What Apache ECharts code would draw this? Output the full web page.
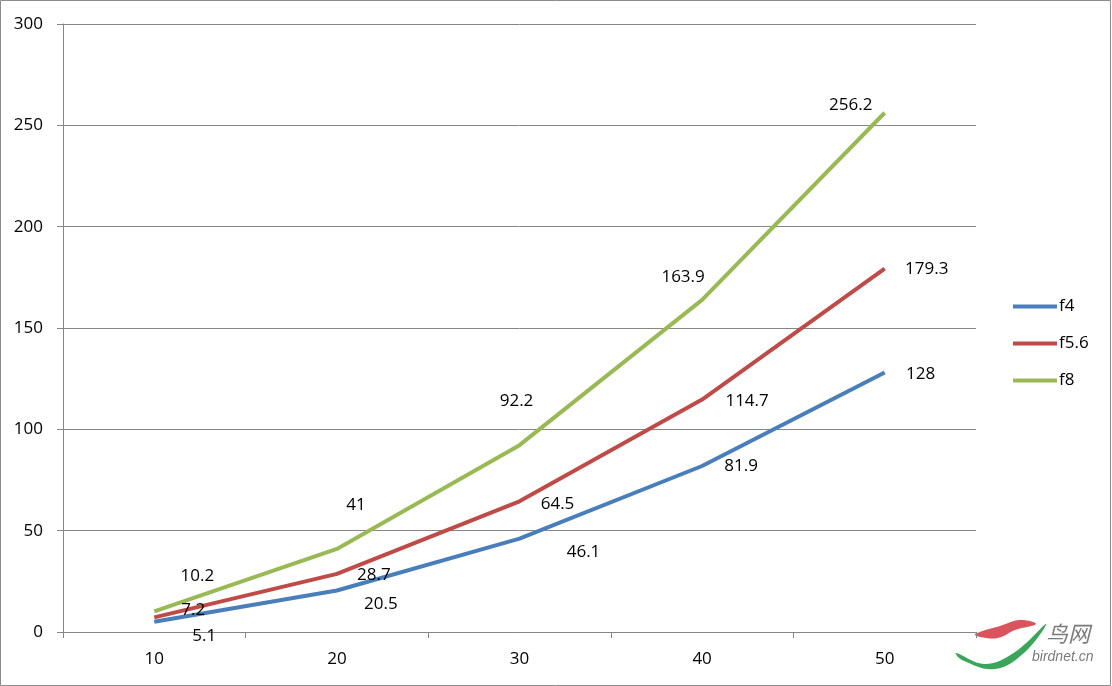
<!DOCTYPE html>
<html>
<head>
<meta charset="utf-8">
<script src="https://cdn.jsdelivr.net/npm/echarts@6/dist/echarts.min.js"></script>
<style>
  html, body { margin: 0; padding: 0; background: #fff; }
  #chart { width: 1112px; height: 686px; }
</style>
</head>
<body>
<div id="chart"></div>
<script>
  // 数据
  var categories = ['10', '20', '30', '40', '50'];
  var seriesNames = ['f4', 'f5.6', 'f8'];
  var f4Values = [5.1, 20.5, 46.1, 81.9, 128];
  var f56Values = [7.2, 28.7, 64.5, 114.7, 179.3];
  var f8Values = [10.2, 41, 92.2, 163.9, 256.2];
  var yTicks = [0, 50, 100, 150, 200, 250, 300];

  var colors = ['#4A7EBB', '#BE4B48', '#98B954'];
  var font = '"Open Sans", "Noto Sans", sans-serif';

  // label offsets (style only), one per point
  var labelShift = [
    [[50, 14], [44, 14], [64, 14], [39, 0], [36, 2]],
    [[39, -7], [37, 1], [38, 3], [45, 2], [42, 1]],
    [[43, -35], [19, -44], [-3, -44], [-19, -23], [-34, -8]]
  ];

  function buildSeries(i, values) {
    return {
      name: seriesNames[i],
      type: 'line',
      symbol: 'circle',
      symbolSize: 0.1,
      lineStyle: { width: 4, color: colors[i] },
      itemStyle: { color: colors[i] },
      label: {
        show: true,
        position: 'inside',
        color: '#000',
        fontSize: 17,
        fontFamily: font
      },
      data: values.map(function (v, j) {
        return { value: v, label: { offset: labelShift[i][j] } };
      })
    };
  }

  var chart = echarts.init(document.getElementById('chart'));
  var option = {
    animation: false,
    color: colors,
    grid: { left: 63, right: 136, top: 24, bottom: 54 },
    legend: {
      orient: 'vertical',
      left: 1008,
      top: 293,
      icon: 'rect',
      itemWidth: 44,
      itemHeight: 4,
      itemGap: 20,
      textStyle: { fontSize: 17, fontFamily: font, color: '#000', padding: [0, 0, 0, -3] },
      data: seriesNames
    },
    xAxis: {
      type: 'category',
      data: categories,
      boundaryGap: true,
      axisLine: { lineStyle: { color: '#868686', width: 1 } },
      axisTick: { show: true, length: 6, interval: 0, lineStyle: { color: '#868686' } },
      axisLabel: { color: '#000', fontSize: 17, fontFamily: font, margin: 19 },
      splitLine: { show: false }
    },
    yAxis: {
      type: 'value',
      min: yTicks[0],
      max: yTicks[yTicks.length - 1],
      interval: 50,
      axisLine: { show: true, lineStyle: { color: '#868686', width: 1 } },
      axisTick: { show: true, length: 6, lineStyle: { color: '#868686' } },
      axisLabel: { color: '#000', fontSize: 17, fontFamily: font, margin: 20 },
      splitLine: { show: true, lineStyle: { color: '#868686', width: 1 } }
    },
    graphic: [
      {
        type: 'rect',
        shape: { x: 0.5, y: 0.5, width: 1110, height: 685 },
        style: { fill: 'none', stroke: '#8c8c8c', lineWidth: 1 },
        silent: true
      },
      {
        type: 'polygon',
        shape: { points: [[975, 634], [1000, 626], [1020, 620], [1036, 624], [1015, 630], [998, 638], [980, 637]], smooth: 0.4 },
        style: { fill: '#d9545c' },
        silent: true
      },
      {
        type: 'polygon',
        shape: { points: [[956, 653], [985, 664], [1015, 652], [1046, 624], [1025, 652], [995, 669], [962, 660]], smooth: 0.4 },
        style: { fill: '#3aa65a' },
        silent: true
      },
      {
        type: 'text',
        left: 1046,
        top: 623,
        style: { text: '鸟网', fontSize: 22, fontStyle: 'italic', fill: '#7a7a7a', fontFamily: '"Noto Sans CJK SC", sans-serif' },
        silent: true
      },
      {
        type: 'text',
        left: 1032,
        top: 650,
        style: { text: 'birdnet.cn', fontSize: 14, fontStyle: 'italic', fill: '#7a7a7a', fontFamily: 'Arial, "Liberation Sans", sans-serif' },
        silent: true
      }
    ],
    series: [
      buildSeries(0, f4Values),
      buildSeries(1, f56Values),
      buildSeries(2, f8Values)
    ]
  };
  chart.setOption(option);
</script>
</body>
</html>
